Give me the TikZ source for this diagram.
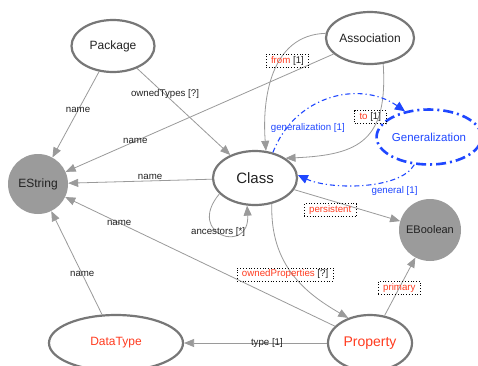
\documentclass[tikz,border=0pt]{standalone}
\usepackage{fontspec}
\setmainfont{Liberation Sans}
\usetikzlibrary{shapes.geometric,arrows.meta}
\definecolor{rim}{HTML}{777777}
\definecolor{wire}{HTML}{9A9A9A}
\definecolor{prim}{HTML}{9B9B9B}
\definecolor{attr}{HTML}{FF3B1F}
\definecolor{gen}{HTML}{1F47FF}
\definecolor{ink}{HTML}{222222}
\tikzset{
  cls/.style={ellipse, draw=rim, line width=2.2pt, fill=white, inner sep=0pt,
    font=\fontsize{12}{14}\selectfont, text=ink},
  primtype/.style={circle, fill=prim, inner sep=0pt, minimum size=60pt,
    font=\fontsize{12}{14}\selectfont, text=ink},
  ref/.style={draw=wire, line width=0.8pt, -{Triangle[length=10pt,width=8pt]}},
  tag/.style={font=\fontsize{9.7}{11}\selectfont, text=ink, inner sep=1pt},
  boxtag/.style={tag, draw=black, dotted, line width=0.8pt,
    inner xsep=5pt, inner ysep=2pt},
  genref/.style={draw=gen, line width=1.1pt,
    dash pattern=on 5pt off 3pt on 1.2pt off 3pt,
    -{Triangle[length=10pt,width=9pt]}},
}
\begin{document}
\begin{tikzpicture}[x=1pt,y=-1pt]
\fill[white] (0,0) rectangle (478,365);
\useasboundingbox (0,0) rectangle (478,365);

% classes
\node[cls, minimum width=83pt, minimum height=52pt] (Package) at (113,46) {Package};
\node[cls, minimum width=88pt, minimum height=52pt] (Association) at (370,38) {Association};
\node[cls, minimum width=84pt, minimum height=54pt, font=\fontsize{15}{17}\selectfont] (Class) at (255,178) {Class};
\node[cls, draw=gen, text=gen, line width=2.6pt,
      dash pattern=on 10pt off 4pt on 2pt off 4pt,
      minimum width=97pt, minimum height=55pt, font=\fontsize{11.5}{13}\selectfont]
      (Generalization) at (429,137) {Generalization};
\node[cls, text=attr, minimum width=134pt, minimum height=56pt] (DataType) at (116,343) {DataType};
\node[cls, text=attr, minimum width=84pt, minimum height=56pt, font=\fontsize{14}{16}\selectfont] (Property) at (370,343) {Property};

% primitive types
\node[primtype] (EString) at (38,184) {EString};
\node[primtype, minimum size=62pt, font=\fontsize{11}{13}\selectfont] (EBoolean) at (430,230) {EBoolean};

% references
\draw[ref] (Package) -- node[tag,pos=0.45]{name} (EString);
\draw[ref] (Package) -- node[tag,pos=0.3]{ownedTypes [?]} (Class);
\draw[ref] (Association) -- node[tag,pos=0.74]{name} (EString);
\draw[ref] (Class) -- node[tag,pos=0.43,above]{name} (EString);
\draw[ref] (Class.204) .. controls (185,235) and (250,255) .. (Class.254)
      node[tag,pos=0.45]{ancestors [*]};
\draw[ref] (Class) -- node[boxtag,pos=0.34,below=3pt]{\textcolor{attr}{persistent}} (EBoolean);
\draw[ref] (Class.303) .. controls (270,265) and (305,293) .. (Property.131)
      node[boxtag,pos=0.5,xshift=-8pt]{\textcolor{attr}{ownedProperties} [?]};
\draw[ref] (Property) -- node[tag,pos=0.8]{name} (EString);
\draw[ref] (DataType) -- node[tag,pos=0.39]{name} (EString);
\draw[ref] (Property) -- node[tag,pos=0.42]{type [1]} (DataType);
\draw[ref] (Property) -- node[boxtag,pos=0.48]{\textcolor{attr}{primary}} (EBoolean);
\draw[ref] (Association.174) .. controls (270,35) and (262,100) .. (Class.68)
      node[boxtag,pos=0.3,yshift=-11pt]{\textcolor{attr}{from} [1]};
\draw[ref] (Association.297) .. controls (388,140) and (360,155) .. (Class.33)
      node[boxtag,pos=0.3,xshift=-8pt]{\textcolor{attr}{to} [1]};

% generalization links
\draw[genref] (Class.55) .. controls (295,95) and (360,80) .. (Generalization.133)
      node[tag,text=gen,pos=0.2,xshift=17pt,yshift=-5pt]{generalization [1]};
\draw[genref] (Generalization.242) .. controls (400,190) and (330,190) .. (Class.4)
      node[tag,text=gen,pos=0.25,below=6pt]{general [1]};
\end{tikzpicture}
\end{document}
